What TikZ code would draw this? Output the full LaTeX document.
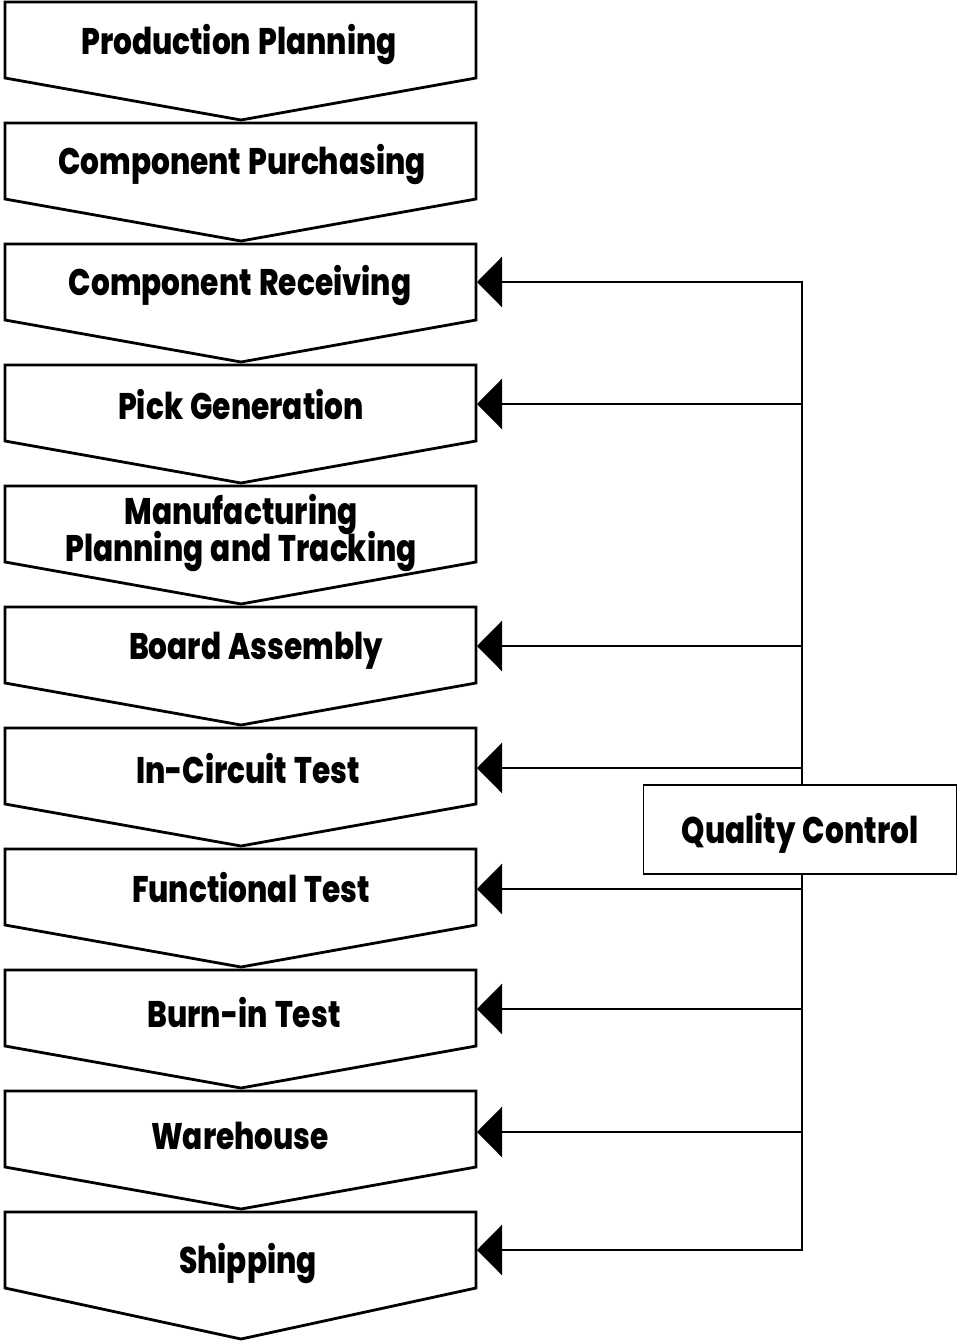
\documentclass[tikz,border=0pt]{standalone}
\usepackage{fontspec}
\usetikzlibrary{arrows.meta}
\newfontfamily\hfont{Poppins}[FakeStretch=0.8,UprightFont=* ExtraBold,WordSpace=1.3]
\tikzset{
  chev/.style={draw=black,line width=2.8pt,line join=miter,fill=white},
  lbl/.style={font=\hfont\fontsize{37}{40}\selectfont,anchor=base,inner sep=0pt},
  fb/.style={line width=2.8pt,-{Triangle[length=25pt,width=50pt]}},
  qcbox/.style={draw=black,line width=1.8pt,fill=white,minimum width=313pt,minimum height=89pt,inner sep=0pt}
}
\newcommand{\chevbox}[2]{% #1 top, #2 tip depth
  \draw[chev] (5,#1) -- (476,#1) -- (476,#1+76) -- (241,#1+#2) -- (5,#1+76) -- cycle;}
\begin{document}
\begin{tikzpicture}[x=1pt,y=-1pt]
\useasboundingbox (0,0) rectangle (957,1342);
% chevrons
\chevbox{2}{118}
\chevbox{123}{118}
\chevbox{244}{118}
\chevbox{365}{118}
\chevbox{486}{118}
\chevbox{607}{118}
\chevbox{728}{118}
\chevbox{849}{118}
\chevbox{970}{118}
\chevbox{1091}{118}
\chevbox{1212}{127}
% labels
\node[lbl] (n1) at (239,54) {Production Planning};
\node[lbl] (n2) at (242,174) {Component Purchasing};
\node[lbl] (n3) at (240,295) {Component Receiving};
\node[lbl] (n4) at (241,419) {Pick Generation};
\node[lbl] (n5a) at (241,524) {Manufacturing};
\node[lbl] (n5b) at (241,561) {Planning and Tracking};
\node[lbl] (n6) at (256,659) {Board Assembly};
\node[lbl] (n7) at (248,783) {In-Circuit Test};
\node[lbl] (n8) at (251,902) {Functional Test};
\node[lbl] (n9) at (244,1027) {Burn-in Test};
\node[lbl] (n10) at (240,1149) {Warehouse};
\node[lbl] (n11) at (248,1273) {Shipping};
% feedback line
\coordinate (qtop) at (802,282);
\coordinate (qbot) at (802,1250);
\draw[line width=2.8pt,line cap=rect] (qtop) -- (qbot);
\foreach \y/\n in {282/3,404/4,646/6,768/7,889/8,1009/9,1132/10,1250/11}{
  \coordinate (e\n) at (477,\y);
  \coordinate (s\n) at (802,\y);
  \draw[fb] (s\n) -- (e\n);
}
\node[qcbox] (qc) at (800,829.5) {};
\node[lbl] (qct) at (800,843) {Quality Control};
\end{tikzpicture}
\end{document}
